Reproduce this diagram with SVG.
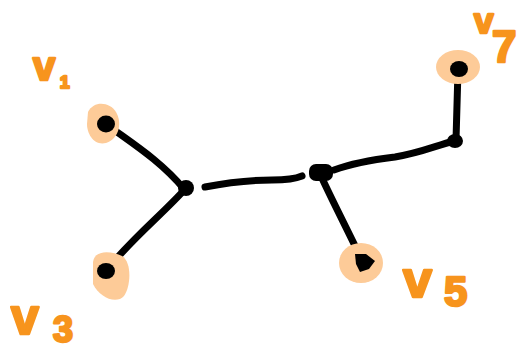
<svg xmlns="http://www.w3.org/2000/svg" width="519" height="351" viewBox="0 0 519 351">
  <style>
    .halo { fill: #fdcb98; }
    .dot { fill: #000; }
    .edge { fill: none; stroke: #000; stroke-width: 7; stroke-linecap: round; stroke-linejoin: round; }
    .lbl { font-family: "Liberation Sans", Arial, sans-serif; font-weight: bold; fill: #f7941d; stroke: #f7941d; stroke-width: 2.5; stroke-linejoin: round; }
  </style>
  <rect width="519" height="351" fill="#fff"/>

  <!-- tree edges -->
  <g id="connectors">
    <path class="edge" d="M106,124 C130,142 160,160 184,189"/>
    <path class="edge" d="M186,188 C165,212 130,240 106,271"/>
    <path class="edge" d="M205,187 C230,182 250,180 272,180 C285,180 295,179 302,176"/>
    <path class="edge" d="M334,170 C350,164 370,160 395,157 C420,153 435,146 454,141"/>
    <path class="edge" d="M456,140 L458,70"/>
    <path class="edge" d="M321,176 C332,200 345,225 357,250"/>
  </g>

  <!-- leaf v1 -->
  <g id="v1">
    <path class="halo" d="M88,112 C94,100 110,102 116,112 C122,122 120,138 106,143 C94,146 87,134 87,124 Z"/>
    <ellipse class="dot" cx="106" cy="124" rx="9" ry="8.5"/>
    <text class="lbl" x="33" y="80" font-size="40">v</text>
    <text class="lbl" x="60" y="88" font-size="17">1</text>
  </g>

  <!-- leaf v3 -->
  <g id="v3">
    <path class="halo" d="M93,262 C95,249 112,251 122,256 C132,262 131,286 124,296 C116,305 99,297 93,284 Z"/>
    <ellipse class="dot" cx="106" cy="271" rx="9" ry="8"/>
    <text class="lbl" x="11" y="334" font-size="50">v</text>
    <text class="lbl" x="53" y="342" font-size="36">3</text>
  </g>

  <!-- internal node A -->
  <g id="a">
    <ellipse class="dot" cx="186" cy="188" rx="8" ry="8"/>
  </g>

  <!-- internal node B -->
  <g id="b">
    <rect class="dot" x="309" y="164" width="24" height="17" rx="7"/>
  </g>

  <!-- internal node C -->
  <g id="c">
    <ellipse class="dot" cx="455" cy="141" rx="8" ry="7"/>
  </g>

  <!-- leaf v5 -->
  <g id="v5">
    <ellipse class="halo" cx="361" cy="263" rx="22" ry="20"/>
    <path class="dot" d="M355,254 L366,254 L375,261 L369,269 L360,272 L356,264 Z"/>
    <text class="lbl" x="403" y="297" font-size="52">v</text>
    <text class="lbl" x="444" y="306" font-size="42">5</text>
  </g>

  <!-- leaf v7 -->
  <g id="v7">
    <ellipse class="halo" cx="458" cy="67" rx="22" ry="17"/>
    <ellipse class="dot" cx="459" cy="69" rx="9" ry="8"/>
    <text class="lbl" x="474" y="33" font-size="35">v</text>
    <text class="lbl" x="492" y="62" font-size="44">7</text>
  </g>
</svg>
